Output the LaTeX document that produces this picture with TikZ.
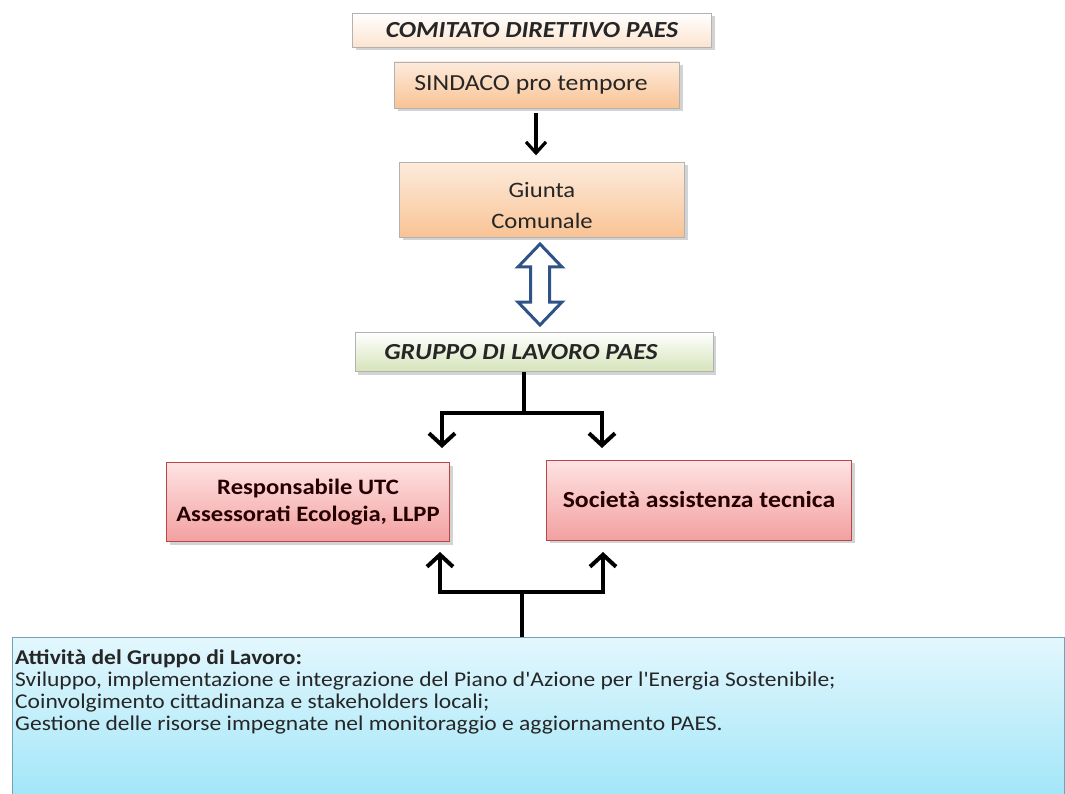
\documentclass[tikz,border=0pt]{standalone}
\usepackage{fontspec}
\setmainfont{Carlito}[FakeStretch=1.12, Ligatures=TeXOff]
\usetikzlibrary{arrows.meta,shadows,calc}

\definecolor{peachtop}{HTML}{FDEBDC}
\definecolor{peachbot}{HTML}{F9C394}
\definecolor{greenbot}{HTML}{D5E3B9}
\definecolor{redtop}{HTML}{FFE3E3}
\definecolor{redbot}{HTML}{F2A0A0}
\definecolor{bluetop}{HTML}{E3F7FD}
\definecolor{bluebot}{HTML}{9EE5F8}
\definecolor{arrowblue}{HTML}{2F5386}
\definecolor{boxtext}{HTML}{262626}

\begin{document}
\begin{tikzpicture}[x=1pt,y=-1pt,
    box/.style={rectangle, draw=gray!60, line width=0.6pt, text=boxtext,
      align=center, inner sep=2pt, drop shadow={shadow xshift=3pt,
      shadow yshift=-3pt, opacity=0.35}},
    titlebox/.style={box, top color=white, font=\fontsize{23}{26}\selectfont\bfseries\itshape},
    peachbox/.style={box, top color=peachtop, bottom color=peachbot,
      font=\fontsize{23}{32}\selectfont},
    redbox/.style={box, draw=red!45!gray, top color=redtop, bottom color=redbot,
      font=\fontsize{22}{27}\selectfont\bfseries, text=black!85!red},
    infobox/.style={rectangle, draw=cyan!40!gray, line width=0.6pt,
      top color=bluetop, bottom color=bluebot},
    branch/.style={line width=4pt, -{Straight Barb[length=12pt,width=26pt]}},
    >=Straight Barb]
  \useasboundingbox (0,0) rectangle (1065,794);

  % comitato direttivo
  \node[titlebox, bottom color=peachbot!45, minimum width=359, minimum height=34]
    (cdp) at (532,30) {COMITATO DIRETTIVO PAES};
  \node[peachbox, minimum width=285, minimum height=46] (sind) at (537,85)
    {SINDACO pro tempore\hspace*{12pt}};
  \node[peachbox, font=\fontsize{22}{31}\selectfont, minimum width=285,
    minimum height=75, text height=58pt, text depth=0pt] (giunta) at (542,200)
    {Giunta\\Comunale};
  \draw[line width=3.2pt, -{Straight Barb[length=11pt,width=20pt]}]
    (sind.south -| 536,0) ++(0,5) -- ++(0,42);

  % doppia freccia
  \coordinate (dtop) at (540,244);
  \coordinate (dbot) at (540,325);
  \filldraw[fill=white, draw=arrowblue, line width=3pt, line join=miter]
    (dtop) -- ++(22,23) -- ++(-12.5,0) -- ($(dbot)+(9.5,-23)$) -- ++(12.5,0)
    -- (dbot) -- ++(-22,-23) -- ++(12.5,0) -- ($(dtop)+(-9.5,23)$) -- ++(-12.5,0)
    -- cycle;

  % gruppo di lavoro
  \node[titlebox, bottom color=greenbot, minimum width=358, minimum height=39]
    (gdl) at (534,352) {GRUPPO DI LAVORO PAES\hspace*{26pt}};
  \node[redbox, minimum width=283, minimum height=79] (resp) at (308,502)
    {Responsabile UTC\\Assessorati Ecologia, LLPP};
  \node[redbox, font=\fontsize{23}{32}\selectfont\bfseries, minimum width=305,
    minimum height=80] (soc) at (699,500) {Società assistenza tecnica};

  \coordinate (split) at (524,413);
  \coordinate (respin) at (442,448);
  \coordinate (socin) at (602,448);
  \draw[line width=4pt] (gdl.south -| split) -- (split);
  \draw[branch] (split) -| (respin);
  \draw[branch] (split) -| (socin);

  % attivita
  \node[infobox, anchor=north west, minimum width=1052, minimum height=170]
    (info) at (12,637) {};
  \node[anchor=north west, align=left, inner sep=0pt,
    font=\fontsize{21}{22}\selectfont, text=boxtext] (infotext) at (15,650)
    {\textbf{Attività del Gruppo di Lavoro:}\\
     Sviluppo, implementazione  e integrazione del Piano d'Azione per l'Energia Sostenibile;\\
     Coinvolgimento cittadinanza e stakeholders locali;\\
     Gestione delle risorse impegnate nel monitoraggio e aggiornamento PAES.};

  \coordinate (join) at (522,592);
  \coordinate (respout) at (440,552);
  \coordinate (socout) at (603,552);
  \draw[line width=4pt] (info.north -| join) -- (join);
  \draw[branch] (join) -| (respout);
  \draw[branch] (join) -| (socout);
\end{tikzpicture}
\end{document}
